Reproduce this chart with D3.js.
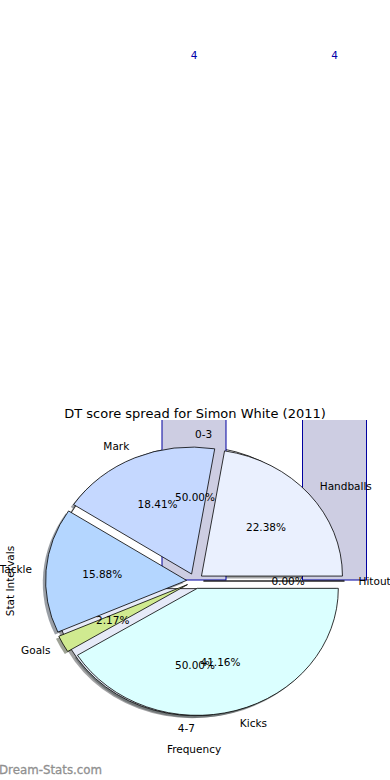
<!DOCTYPE html>
<html>
<head>
<meta charset="utf-8">
<script src="https://cdn.jsdelivr.net/npm/d3@7"></script>
<style>
  body { margin: 0; background: #fff; }
  svg { display: block; font-family: "DejaVu Sans", sans-serif; }
</style>
</head>
<body>
<div id="chart"></div>
<script>
// data
var intervalCats = [ '0-3', '4-7' ];
var intervalFreq = [ 4, 4 ];

var statNames = [ 'Handballs', 'Mark', 'Tackle', 'Goals', 'Kicks', 'Hitout' ];
var statShares = [ 22.38, 18.41, 15.88, 2.17, 41.16, 0.00 ];

var width = 390,
  height = 780;

var cx = 195, cy = 581, rx = 141, ry = 127;
var explode = 0.06;
var labelFont = '10.5px';

var statColor = d3.scaleOrdinal()
  .domain( statNames )
  .range( [ '#eaf0fe', '#c5d8ff', '#b4d6ff', '#d0ea90', '#dbffff', '#ffffff' ] );
var intervalColor = d3.scaleOrdinal()
  .domain( intervalCats )
  .range( [ '#ffffff', '#e6eaf8' ] );

var pct = d3.format( '.2f' );

var svg = d3.select( '#chart' ).append( 'svg' )
  .attr( 'width', width )
  .attr( 'height', height );

svg.append( 'defs' ).append( 'clipPath' )
  .attr( 'id', 'axclip' )
  .append( 'rect' )
  .attr( 'x', 0 ).attr( 'y', 420 )
  .attr( 'width', width ).attr( 'height', 200 );

// matplotlib-style pies: start at 3 o'clock, counter-clockwise
var pie = d3.pie().sort( null )
  .startAngle( Math.PI / 2 )
  .endAngle( Math.PI / 2 - 2 * Math.PI );
var arc = d3.arc().innerRadius( 0 ).outerRadius( 1 );

function offset( d, k ) {
  var a = ( d.startAngle + d.endAngle ) / 2;
  return [ k * Math.sin( a ), -k * Math.cos( a ) ];
}

var shadowLayer = svg.append( 'g' );
var pie1Layer = svg.append( 'g' );
var barLayer = svg.append( 'g' ).attr( 'clip-path', 'url(#axclip)' );
var pie2Layer = svg.append( 'g' );
var textLayer = svg.append( 'g' );

function drawPie( layer, names, values, color ) {
  var arcs = pie( values ).map( function( d, i ) {
    d.name = names[ i ];
    return d;
  } );
  var total = d3.sum( values );

  // shadows
  shadowLayer.selectAll( null )
    .data( arcs )
    .enter()
    .append( 'path' )
    .attr( 'transform', function( d ) {
      var o = offset( d, explode );
      return 'translate(' + ( cx + rx * ( o[ 0 ] - 0.02 ) ) + ',' + ( cy + ry * ( o[ 1 ] + 0.02 ) ) + ') scale(' + rx + ',' + ry + ')';
    } )
    .attr( 'd', arc )
    .attr( 'fill', function( d ) {
      var c = d3.rgb( color( d.name ) );
      return d3.rgb( c.r * 0.3, c.g * 0.3, c.b * 0.3 );
    } )
    .attr( 'fill-opacity', 0.5 );

  layer.selectAll( null )
    .data( arcs )
    .enter()
    .append( 'path' )
    .attr( 'transform', function( d ) {
      var o = offset( d, explode );
      return 'translate(' + ( cx + rx * o[ 0 ] ) + ',' + ( cy + ry * o[ 1 ] ) + ') scale(' + rx + ',' + ry + ')';
    } )
    .attr( 'd', arc )
    .attr( 'fill', function( d ) { return color( d.name ); } )
    .attr( 'stroke', '#000' )
    .attr( 'stroke-width', 0.8 )
    .attr( 'vector-effect', 'non-scaling-stroke' );

  arcs.forEach( function( d ) {
    var o = offset( d, explode );
    var l = offset( d, 1.1 );
    var p = offset( d, 0.6 );
    textLayer.append( 'text' )
      .attr( 'x', cx + rx * ( o[ 0 ] + l[ 0 ] ) )
      .attr( 'y', cy + ry * ( o[ 1 ] + l[ 1 ] ) )
      .attr( 'text-anchor', l[ 0 ] >= 0 ? 'start' : 'end' )
      .attr( 'dominant-baseline', 'central' )
      .attr( 'font-size', labelFont )
      .attr( 'fill', '#000' )
      .text( d.name );
    textLayer.append( 'text' )
      .attr( 'x', cx + rx * ( o[ 0 ] + p[ 0 ] ) )
      .attr( 'y', cy + ry * ( o[ 1 ] + p[ 1 ] ) )
      .attr( 'text-anchor', 'middle' )
      .attr( 'dominant-baseline', 'central' )
      .attr( 'font-size', labelFont )
      .attr( 'fill', '#000' )
      .text( pct( d.value / total * 100 ) + '%' );
  } );
}

// first pie (intervals), sits under everything else
drawPie( pie1Layer, intervalCats, intervalFreq, intervalColor );

// bars
var x = d3.scaleBand()
  .domain( intervalCats )
  .range( [ 123.75, 404.75 ] )
  .paddingInner( 0.5445 )
  .paddingOuter( 0.2722 );
var y = d3.scaleLinear()
  .domain( [ 0, 4 ] )
  .range( [ 580, 62 ] );

barLayer.selectAll( '.bar' )
  .data( intervalFreq )
  .enter()
  .append( 'rect' )
  .attr( 'class', 'bar' )
  .attr( 'x', function( d, i ) { return x( intervalCats[ i ] ); } )
  .attr( 'y', function( d ) { return y( d ); } )
  .attr( 'width', x.bandwidth() )
  .attr( 'height', function( d ) { return y( 0 ) - y( d ); } )
  .attr( 'fill', '#cdcde2' )
  .attr( 'stroke', '#0000a0' )
  .attr( 'stroke-width', 1 );

svg.selectAll( '.barval' )
  .data( intervalFreq )
  .enter()
  .append( 'text' )
  .attr( 'class', 'barval' )
  .attr( 'x', function( d, i ) { return x( intervalCats[ i ] ) + x.bandwidth() / 2; } )
  .attr( 'y', function( d ) { return y( d ) - 7; } )
  .attr( 'text-anchor', 'middle' )
  .attr( 'dominant-baseline', 'central' )
  .attr( 'font-size', labelFont )
  .attr( 'fill', '#0000aa' )
  .text( function( d ) { return d; } );

// second pie (stats)
drawPie( pie2Layer, statNames, statShares, statColor );

// titles
svg.append( 'text' )
  .attr( 'x', 195 )
  .attr( 'y', 413 )
  .attr( 'text-anchor', 'middle' )
  .attr( 'dominant-baseline', 'central' )
  .attr( 'font-size', '13px' )
  .attr( 'fill', '#000' )
  .text( 'DT score spread for Simon White (2011)' );

svg.append( 'text' )
  .attr( 'x', 194 )
  .attr( 'y', 749 )
  .attr( 'text-anchor', 'middle' )
  .attr( 'dominant-baseline', 'central' )
  .attr( 'font-size', labelFont )
  .attr( 'fill', '#000' )
  .text( 'Frequency' );

svg.append( 'text' )
  .attr( 'transform', 'translate(10,581) rotate(-90)' )
  .attr( 'text-anchor', 'middle' )
  .attr( 'dominant-baseline', 'central' )
  .attr( 'font-size', labelFont )
  .attr( 'fill', '#000' )
  .text( 'Stat Intervals' );

svg.append( 'text' )
  .attr( 'x', -1 )
  .attr( 'y', 770 )
  .attr( 'dominant-baseline', 'central' )
  .attr( 'font-size', '11.8px' )
  .attr( 'fill', '#909090' )
  .attr( 'stroke', '#909090' )
  .attr( 'stroke-width', 0.3 )
  .text( 'Dream-Stats.com' );
</script>
</body>
</html>
